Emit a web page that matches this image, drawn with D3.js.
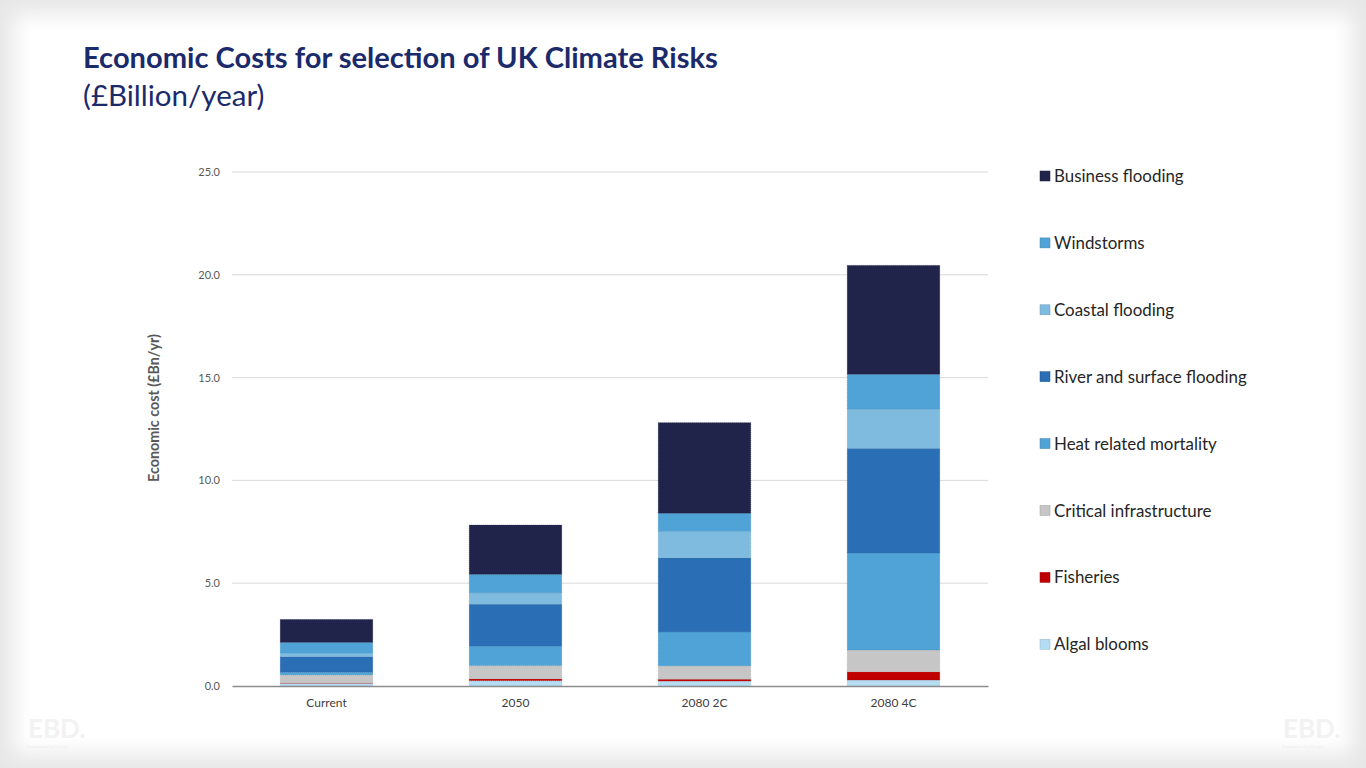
<!DOCTYPE html>
<html>
<head>
<meta charset="utf-8">
<script src="https://cdn.jsdelivr.net/npm/d3@7"></script>
<style>
  html, body { margin: 0; padding: 0; background: #ececec; }
  svg { display: block; }
  text { font-family: Lato, "Open Sans", sans-serif; }
</style>
</head>
<body>
<svg id="chart" width="1366" height="768"></svg>
<script>
// ---- DATA ----
const categories = ["Current", "2050", "2080 2C", "2080 4C"];
const seriesNames = ["Algal blooms", "Fisheries", "Critical infrastructure", "Heat related mortality",
                     "River and surface flooding", "Coastal flooding", "Windstorms", "Business flooding"];
const algalBlooms   = [0.13, 0.26, 0.24, 0.29];
const fisheries     = [0.01, 0.08, 0.09, 0.40];
const criticalInfra = [0.40, 0.65, 0.65, 1.06];
const heatMortality = [0.13, 0.95, 1.65, 4.72];
const riverFlooding = [0.76, 2.04, 3.60, 5.09];
const coastalFlood  = [0.16, 0.55, 1.28, 1.91];
const windstorms    = [0.53, 0.90, 0.89, 1.69];
const businessFlood = [1.12, 2.40, 4.41, 5.30];
const yTicks = [0, 5, 10, 15, 20, 25];
const seriesColors = ["#B4DCF2", "#C00000", "#C6C6C6", "#4FA3D6", "#2A6EB5", "#7FBBDF", "#4FA3D6", "#20234A"];

const seriesValues = [algalBlooms, fisheries, criticalInfra, heatMortality, riverFlooding, coastalFlood, windstorms, businessFlood];
const table = categories.map((c, i) => {
  const row = { category: c };
  seriesNames.forEach((s, j) => row[s] = seriesValues[j][i]);
  return row;
});

const svg = d3.select("#chart");

// ---- background slide ----
const defs = svg.append("defs");
const f = defs.append("filter").attr("id", "soft").attr("x", "-5%").attr("y", "-5%").attr("width", "110%").attr("height", "110%");
f.append("feGaussianBlur").attr("stdDeviation", 10);
svg.append("rect").attr("width", 1366).attr("height", 768).attr("fill", "#e7e7e7");
svg.append("rect").attr("x", 14).attr("y", 14).attr("width", 1338).attr("height", 740)
  .attr("fill", "#ffffff").attr("filter", "url(#soft)");
svg.append("rect").attr("x", 30).attr("y", 30).attr("width", 1306).attr("height", 708).attr("fill", "#ffffff");

// watermark
[[28, 738], [1283, 738]].forEach(([x, y]) => {
  svg.append("text").attr("x", x).attr("y", y).attr("font-size", 26).attr("font-weight", 700)
    .attr("fill", "#f2f2f2").text("EBD.");
  svg.append("text").attr("x", x - 1).attr("y", y + 10).attr("font-size", 4.5)
    .attr("fill", "#eeeeee").text("Economics by Design");
});

// ---- titles ----
svg.append("text").attr("x", 83).attr("y", 68).attr("font-size", 29.1).attr("font-weight", 700)
  .attr("fill", "#1B2A6B").text("Economic Costs for selection of UK Climate Risks");
svg.append("text").attr("x", 83).attr("y", 106).attr("font-size", 29.5).attr("font-weight", 400)
  .attr("fill", "#1B2A6B").text("(£Billion/year)");

// ---- scales ----
const x = d3.scaleBand().domain(categories).range([232, 988]).paddingInner(0.51).paddingOuter(0.255);
const y = d3.scaleLinear().domain([0, 25]).range([686, 172]);

// gridlines
svg.append("g").selectAll("line").data(yTicks.filter(d => d > 0)).join("line")
  .attr("x1", 232).attr("x2", 988).attr("y1", d => y(d)).attr("y2", d => y(d))
  .attr("stroke", "#d9d9d9").attr("stroke-width", 1);

// y axis labels
const yAxis = d3.axisLeft(y).tickValues(yTicks).tickFormat(d3.format(".1f")).tickSize(0).tickPadding(12);
const yg = svg.append("g").attr("transform", "translate(232,0)").call(yAxis);
yg.select(".domain").remove();
yg.selectAll("text").attr("font-size", 11).attr("fill", "#595959").attr("font-family", "Lato, 'Open Sans', sans-serif");

// stacked bars
const stack = d3.stack().keys(seriesNames);
const stacked = stack(table);
const darker = c => d3.color(c).darker(0.6).formatHex();
svg.append("g").selectAll("g").data(stacked).join("g")
  .attr("fill", (d, i) => seriesColors[i])
  .attr("stroke", (d, i) => darker(seriesColors[i]))
  .attr("stroke-width", 0.6).attr("stroke-dasharray", "1,1").attr("stroke-opacity", 0.6)
  .selectAll("rect").data(d => d).join("rect")
  .attr("x", d => x(d.data.category))
  .attr("width", x.bandwidth())
  .attr("y", d => y(d[1]))
  .attr("height", d => Math.max(0, y(d[0]) - y(d[1])));

// x axis
const xAxis = d3.axisBottom(x).tickSize(0).tickPadding(12);
const xg = svg.append("g").attr("transform", "translate(0,686)").call(xAxis);
xg.select(".domain").attr("stroke", "#8c8c8c").attr("stroke-width", 1.3);
xg.selectAll("text").attr("font-size", 12).attr("fill", "#404040").attr("font-family", "Lato, 'Open Sans', sans-serif");

// y axis title
svg.append("text").attr("transform", "translate(159,408) rotate(-90)").attr("text-anchor", "middle")
  .attr("font-size", 14.3).attr("font-weight", 700).attr("fill", "#595959").text("Economic cost (£Bn/yr)");

// legend
const legendOrder = seriesNames.map((s, i) => ({ name: s, color: seriesColors[i] })).reverse();
const lg = svg.append("g").selectAll("g").data(legendOrder).join("g")
  .attr("transform", (d, i) => `translate(1040, ${176 + i * 66.9})`);
lg.append("rect").attr("x", 0).attr("y", -5).attr("width", 10).attr("height", 10)
  .attr("fill", d => d.color).attr("stroke", d => darker(d.color)).attr("stroke-width", 0.5);
lg.append("text").attr("x", 14).attr("y", 6).attr("font-size", 16.9).attr("fill", "#262626").text(d => d.name);
</script>
</body>
</html>
